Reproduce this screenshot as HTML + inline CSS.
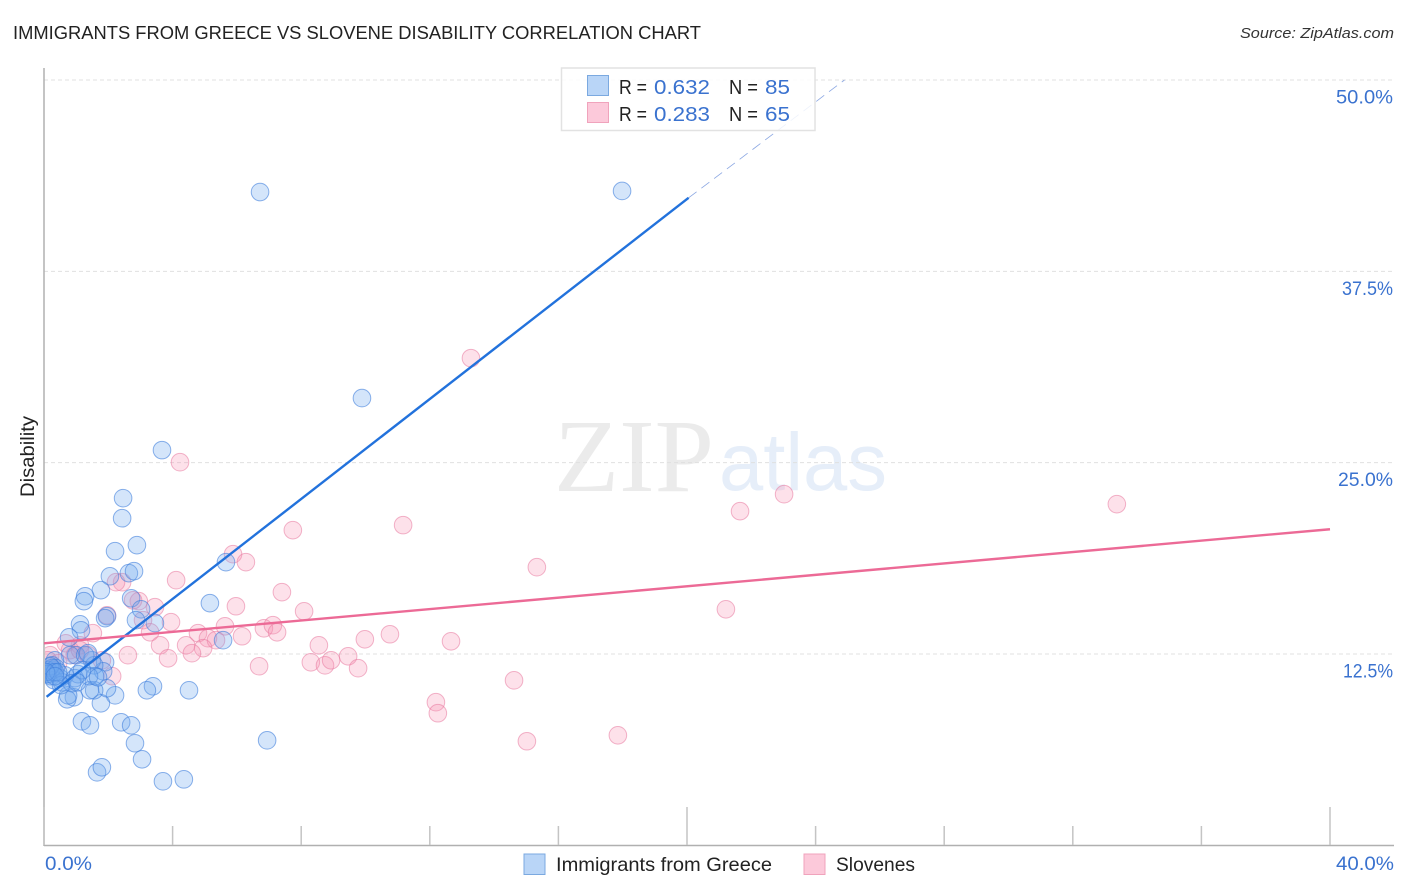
<!DOCTYPE html>
<html lang="en">
<head>
<meta charset="utf-8">
<title>Immigrants from Greece vs Slovene Disability Correlation Chart</title>
<style>
html,body{margin:0;padding:0;background:#fff;width:1406px;height:892px;overflow:hidden}
svg{display:block;font-family:"Liberation Sans",sans-serif}
</style>
</head>
<body>
<svg id="chart" xmlns="http://www.w3.org/2000/svg" width="1406" height="892" viewBox="0 0 1406 892">
  <defs>
    <clipPath id="plot-clip"><rect x="45" y="60" width="1349" height="785"/></clipPath>
  </defs>
  <text x="13" y="39" font-size="18.5" fill="#222" textLength="688" lengthAdjust="spacingAndGlyphs">IMMIGRANTS FROM GREECE VS SLOVENE DISABILITY CORRELATION CHART</text>
  <text x="1394" y="38" font-size="15" font-style="italic" fill="#333" text-anchor="end" textLength="154" lengthAdjust="spacingAndGlyphs">Source: ZipAtlas.com</text>

  <g>
    <text x="554" y="491" font-family="'Liberation Serif',serif" font-size="104" fill="#ebebeb" textLength="160" lengthAdjust="spacingAndGlyphs">ZIP</text>
    <text x="719" y="490" font-size="82" fill="#e6eef9" textLength="168" lengthAdjust="spacingAndGlyphs">atlas</text>
  </g>

  <g id="grid"></g>
  <g id="axes"></g>
  <g id="ylabels"></g>
  <g id="xlabels"></g>
  <g id="pink-points" clip-path="url(#plot-clip)"></g>
  <g id="blue-points" clip-path="url(#plot-clip)"></g>
  <g id="lines"></g>

  <text transform="translate(34,456.500) rotate(-90)" font-size="19" fill="#222" text-anchor="middle" textLength="81" lengthAdjust="spacingAndGlyphs">Disability</text>

  <g>
    <rect x="561.500" y="68" width="253.500" height="62.500" fill="#fff" fill-opacity="0.85" stroke="#e2e2e2" stroke-width="1.500"/>
    <rect x="587.500" y="75.500" width="21" height="20" fill="#b9d5f7" stroke="#7ba9e0" stroke-width="1"/>
    <rect x="587.500" y="102.500" width="21" height="20" fill="#fcc9da" stroke="#f0a3bc" stroke-width="1"/>
    <g font-size="20.500" fill="#222">
      <text x="619" y="94" textLength="28" lengthAdjust="spacingAndGlyphs">R =</text>
      <text x="654" y="94" fill="#3a72cf" textLength="56" lengthAdjust="spacingAndGlyphs">0.632</text>
      <text x="729" y="94" textLength="29" lengthAdjust="spacingAndGlyphs">N =</text>
      <text x="765" y="94" fill="#3a72cf" textLength="25" lengthAdjust="spacingAndGlyphs">85</text>
      <text x="619" y="121" textLength="28" lengthAdjust="spacingAndGlyphs">R =</text>
      <text x="654" y="121" fill="#3a72cf" textLength="56" lengthAdjust="spacingAndGlyphs">0.283</text>
      <text x="729" y="121" textLength="29" lengthAdjust="spacingAndGlyphs">N =</text>
      <text x="765" y="121" fill="#3a72cf" textLength="25" lengthAdjust="spacingAndGlyphs">65</text>
    </g>
  </g>

  <g>
    <rect x="524" y="854" width="21" height="20.500" fill="#b9d5f7" stroke="#7ba9e0" stroke-width="1"/>
    <text x="556" y="871" font-size="19.500" fill="#222" textLength="216" lengthAdjust="spacingAndGlyphs">Immigrants from Greece</text>
    <rect x="804" y="854" width="21" height="20.500" fill="#fcc9da" stroke="#f0a3bc" stroke-width="1"/>
    <text x="836" y="871" font-size="19.500" fill="#222" textLength="79" lengthAdjust="spacingAndGlyphs">Slovenes</text>
  </g>
</svg>
<script>
// Chart data
const yTickValues = [12.5, 25, 37.5, 50];
const yTickLabels = ["12.5%", "25.0%", "37.5%", "50.0%"];
const xTickValues = [0, 4, 8, 12, 16, 20, 24, 28, 32, 36, 40];
const xMajorTicks = [0, 20, 40];
const xEdgeValues = [0, 40];
const xEdgeLabels = ["0.0%", "40.0%"];

const greeceX = [6.72,17.98,9.89,3.67,2.46,2.43,2.89,2.21,5.66,2.05,2.64,2.80,1.77,1.28,1.24,2.71,3.02,1.96,1.90,2.86,3.45,5.16,1.12,1.15,0.78,5.57,4.51,3.39,3.20,6.94,2.21,1.77,1.18,1.43,2.40,2.71,2.83,3.05,3.70,4.35,1.65,1.80,
  1.96,1.56,1.43,0.93,0.72,0.75,1.90,1.84,1.49,1.56,1.59,1.40,1.68,1.00,0.81,1.28,1.37,0.28,0.19,0.34,0.25,0.19,0.28,0.12,0.22,0.37,0.50,0.31,0.56,0.65,0.96,1.06,0.87,0.53,1.18,0.25,0.09,0.19,0.34,0.44,0.06,0.34,1.03];
const greeceY = [42.68,42.75,29.22,25.82,22.68,21.37,19.61,19.22,18.50,17.58,17.78,17.91,16.67,16.27,15.95,16.14,15.42,14.97,14.84,14.71,14.52,15.82,14.44,14.05,13.59,13.40,10.13,10.39,10.13,6.86,9.80,9.28,8.10,7.84,8.04,7.84,6.67,5.62,4.18,4.31,4.77,5.10,
  10.26,10.13,10.13,9.67,9.54,9.80,11.96,11.37,12.09,11.76,11.05,11.05,10.98,12.42,12.42,12.42,12.55,11.44,11.18,12.09,11.76,11.31,11.31,11.44,11.05,11.57,10.92,10.79,10.65,11.11,10.92,11.18,10.59,10.46,11.44,11.57,11.18,11.70,11.31,11.31,11.31,11.05,10.65];

const sloveneX = [13.28,4.23,33.37,23.02,21.65,11.17,7.74,5.88,6.28,15.33,4.11,7.40,2.43,2.24,5.97,8.09,21.21,2.95,2.77,3.45,3.08,3.95,5.63,6.84,7.12,7.25,3.30,4.79,5.10,5.35,6.16,9.98,10.76,12.66,8.55,3.61,4.42,4.95,4.60,2.61,3.86,9.46,8.30,8.74,8.93,9.77,6.69,14.62,12.19,12.25,15.02,17.85,1.52,1.96,2.12,1.12,1.80,0.68,0.81,0.19,0.12,0.44,0.96,1.37,1.12];
const sloveneY = [31.83,25.03,22.29,22.94,21.83,20.92,20.59,19.02,18.50,18.17,17.32,16.54,17.19,17.19,15.62,15.29,15.42,15.95,16.01,15.56,14.71,14.58,14.31,14.18,14.38,13.92,13.92,13.86,13.53,13.40,13.66,13.46,13.79,13.33,13.07,13.07,13.07,12.88,12.55,12.42,12.22,12.35,11.96,11.76,12.09,11.57,11.70,10.78,9.35,8.63,6.80,7.19,13.86,15.03,11.05,13.07,12.09,13.20,12.75,12.42,12.09,11.90,12.42,12.42,12.75];

const greeceTrendX = [0.08, 20.05];
const greeceTrendY = [9.70, 42.30];
const greeceExtensionX = [20.05, 24.90];
const greeceExtensionY = [42.30, 50.00];
const sloveneTrendX = [0, 40];
const sloveneTrendY = [13.20, 20.65];

// Axis functions
const X0 = 44, X1 = 1330, Y50 = 80, Y125 = 654;
function xScale(v) { return X0 + (X1 - X0) * v / 40; }
function yScale(v) { return Y125 + (Y50 - Y125) * (v - 12.5) / 37.5; }

// The original labels are set in a wider face; fit Liberation to the same rendered width.
function labelWidth(s) {
  if (s.charAt(0) === "1") return 50;
  if (s.charAt(0) === "3") return 51;
  if (s.charAt(0) === "2") return 55;
  if (s.length === 4) return 47;
  return 57;
}

const NS = "http://www.w3.org/2000/svg";
function make(tag, attrs, parentId, text) {
  const el = document.createElementNS(NS, tag);
  for (const k in attrs) el.setAttribute(k, attrs[k]);
  if (text !== undefined) el.textContent = text;
  document.getElementById(parentId).appendChild(el);
  return el;
}

// Gridlines and y labels
yTickValues.forEach(function (v, i) {
  const line = make("line", {x1: X0, x2: 1394, y1: yScale(v), y2: yScale(v), stroke: "#e0e0e0", "stroke-width": 1, "stroke-dasharray": "4 3"}, "grid");
  
  
  const w = labelWidth(yTickLabels[i]);
  const label = make("text", {x: 1393 - w, y: yScale(v) + 23.500, "font-size": 19.500, fill: "#3a72cf", textLength: w, lengthAdjust: "spacingAndGlyphs"}, "ylabels", yTickLabels[i]);
  
  
});

// Axes
const yAxis = make("line", {x1: X0, x2: X0, y1: 68, y2: 846, stroke: "#b0b0b0", "stroke-width": 1.500}, "axes");


const xAxis = make("line", {x1: X0, x2: 1394, y1: 845.500, y2: 845.500, stroke: "#b0b0b0", "stroke-width": 1.500}, "axes");


xTickValues.forEach(function (v) {
  const top = xMajorTicks.indexOf(v) >= 0 ? 807 : 826;
  const tick = make("line", {x1: xScale(v), x2: xScale(v), y1: top, y2: 845, stroke: "#c4c4c4", "stroke-width": 1.500}, "axes");
  
  
});
xEdgeValues.forEach(function (v, i) {
  const w = i === 0 ? 47 : 58;
  const left = i === 0 ? xScale(v) + 1 : xScale(v) + 6;
  const label = make("text", {x: left, y: 870, "font-size": 19.500, fill: "#3a72cf", textLength: w, lengthAdjust: "spacingAndGlyphs"}, "xlabels", xEdgeLabels[i]);
  
  
});

// Points
sloveneX.forEach(function (v, i) {
  const c = make("circle", {cx: xScale(v), cy: yScale(sloveneY[i]), r: 8.800, fill: "#f990b0", "fill-opacity": 0.27, stroke: "#e8789e", "stroke-opacity": 0.55, "stroke-width": 1}, "pink-points");
  
  
});
greeceX.forEach(function (v, i) {
  const c = make("circle", {cx: xScale(v), cy: yScale(greeceY[i]), r: 8.800, fill: "#70a8ee", "fill-opacity": 0.3, stroke: "#3f7fdc", "stroke-opacity": 0.6, "stroke-width": 1}, "blue-points");
  
  
});

// Trend lines
const ext = make("line", {x1: xScale(greeceExtensionX[0]), y1: yScale(greeceExtensionY[0]), x2: xScale(greeceExtensionX[1]), y2: yScale(greeceExtensionY[1]), stroke: "#8aa6e2", "stroke-width": 0.800, "stroke-dasharray": "10 6"}, "lines");


const blueLine = make("line", {x1: xScale(greeceTrendX[0]), y1: yScale(greeceTrendY[0]), x2: xScale(greeceTrendX[1]), y2: yScale(greeceTrendY[1]), stroke: "#2272dc", "stroke-width": 2.400}, "lines");


const pinkLine = make("line", {x1: xScale(sloveneTrendX[0]), y1: yScale(sloveneTrendY[0]), x2: xScale(sloveneTrendX[1]), y2: yScale(sloveneTrendY[1]), stroke: "#ec6a96", "stroke-width": 2.400}, "lines");


</script>
</body>
</html>
